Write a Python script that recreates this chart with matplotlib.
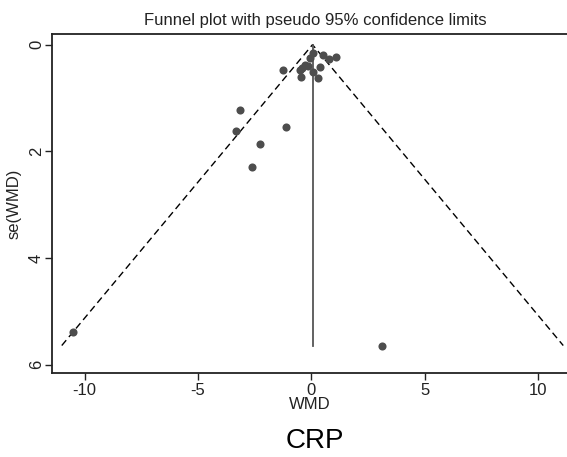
import matplotlib
matplotlib.use('Agg')
import matplotlib.pyplot as plt
import numpy as np

plt.rcParams['font.family'] = ['Liberation Sans', 'DejaVu Sans']

# study effects (WMD) and their standard errors
wmd = np.array([-10.5, 3.1, -3.15, -3.34, -1.12, -2.27, -2.63, -1.24,
                -0.45, 0.30, 0.36, 0.05, 0.52, 0.79, 1.07, -0.43,
                -0.28, -0.05, 0.08, -0.15, -0.50])
se = np.array([5.39, 5.64, 1.23, 1.61, 1.545, 1.86, 2.29, 0.475,
               0.60, 0.62, 0.42, 0.52, 0.19, 0.26, 0.24, 0.44,
               0.38, 0.25, 0.16, 0.40, 0.48])
pooled = 0.05
title = 'Funnel plot with pseudo 95% confidence limits'

fig = plt.figure(figsize=(5.67, 4.57), dpi=100)
ax = fig.add_axes([0.0923, 0.1832, 0.9077, 0.7424])

se_max = se.max()
ax.plot([pooled - 1.96 * se_max, pooled, pooled + 1.96 * se_max],
        [se_max, 0, se_max], color='black', linestyle=(0, (5, 3)), linewidth=1.0)
ax.plot([pooled, pooled], [0, se_max], color='#555555', linewidth=1.3)
ax.scatter(wmd, se, s=34, color='#4d4d4d', zorder=3, linewidths=0)

ax.set_xlim(-11.42, 11.27)
ax.set_ylim(6.16, -0.2)
ax.set_xticks([-10, -5, 0, 5, 10])
ax.set_yticks([0, 2, 4, 6])
ax.set_xticklabels(['-10', '-5', '0', '5', '10'])
for lab in ax.get_yticklabels():
    lab.set_rotation(90)
    lab.set_va('center')
ax.tick_params(labelsize=12, length=5, width=1, colors='#222222')
ax.tick_params(axis='x', pad=2)
ax.tick_params(axis='y', pad=1)
ax.spines['right'].set_visible(False)
for sp in ['left', 'top', 'bottom']:
    ax.spines[sp].set_linewidth(1.3)
    ax.spines[sp].set_color('#222222')

ax.set_xlabel('WMD', fontsize=12, labelpad=-1, color='#222222')
ax.set_ylabel('se(WMD)', fontsize=12, labelpad=5, color='#222222')
fig.text(0.556, 0.955, title, ha='center', va='center', fontsize=12, color='#222222')
fig.text(0.556, 0.036, 'CRP', ha='center', va='center', fontsize=20, color='black')

fig.savefig('out.png', dpi=100)
